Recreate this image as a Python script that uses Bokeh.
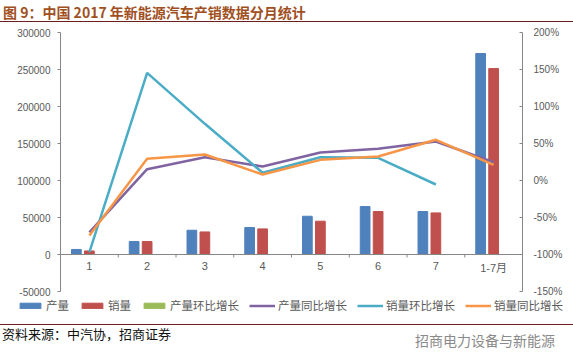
import numpy as np
from bokeh.plotting import figure
from bokeh.models import (Range1d, LinearAxis, FixedTicker, NumeralTickFormatter,
                          Legend, LegendItem, Div, ColumnDataSource, Span)
from bokeh.transform import dodge
from bokeh.embed import file_html
from bokeh.resources import INLINE

# ---------------- data ----------------
categories = ["1", "2", "3", "4", "5", "6", "7", "1-7月"]
production = [6800, 17600, 32800, 36500, 51700, 64800, 58100, 271600]      # 产量
sales = [4800, 17600, 30500, 34600, 45000, 58100, 56200, 251300]           # 销量
prod_mom = [-0.95, 1.59, 0.86, 0.11, 0.42, 0.25, -0.10, np.nan]            # 产量环比增长
prod_yoy = [-0.70, 0.153, 0.315, 0.189, 0.378, 0.428, 0.527, 0.247]        # 产量同比增长
sales_mom = [-0.969, 1.455, 0.766, 0.104, 0.315, 0.306, -0.054, np.nan]    # 销量环比增长
sales_yoy = [-0.743, 0.293, 0.351, 0.081, 0.279, 0.324, 0.550, 0.212]      # 销量同比增长
left_ticks = [-50000, 0, 50000, 100000, 150000, 200000, 250000, 300000]
right_ticks = [-1.5, -1.0, -0.5, 0.0, 0.5, 1.0, 1.5, 2.0]
series_names = ["产量", "销量", "产量环比增长", "产量同比增长", "销量环比增长", "销量同比增长"]

title_text = "图 9：中国 2017 年新能源汽车产销数据分月统计"
source_text = "资料来源：中汽协，招商证券"
mark_text = "招商电力设备与新能源"

# ---------------- styles ----------------
W = 573
axis_col = "#868686"
lab_col = "#595959"
num_font = "Liberation Sans"
c_prod, c_sales, c_pmom = "#4F81BD", "#C0504D", "#9BBB59"
c_pyoy, c_smom, c_syoy = "#8064A2", "#4BACC6", "#F79646"
lw = 2.5
bw = 0.168
off = 0.225

# ---------------- main figure ----------------
n = len(categories)
xs = [i + 0.5 for i in range(n)]
bounds = [float(i) for i in range(n + 1)]

src = ColumnDataSource(dict(x=xs, cat=categories, zero=[0] * n, prod=production, sales=sales,
                            pmom=prod_mom, pyoy=prod_yoy, smom=sales_mom, syoy=sales_yoy))

p = figure(width=W, height=279, output_backend="svg", toolbar_location=None,
           x_range=Range1d(0, n), y_range=Range1d(left_ticks[0], left_ticks[-1]),
           min_border_left=60, min_border_right=51, min_border_top=8, min_border_bottom=12,
           x_axis_type=None, y_axis_type=None)
p.extra_y_ranges = {"pct": Range1d(right_ticks[0], right_ticks[-1])}
p.outline_line_color = None
p.background_fill_color = "white"
p.border_fill_color = "white"

yl = LinearAxis(ticker=FixedTicker(ticks=left_ticks), formatter=NumeralTickFormatter(format="0"))
yl.axis_line_color = axis_col
yl.major_tick_line_color = axis_col
yl.major_tick_out = 3
yl.major_tick_in = 0
yl.minor_tick_line_color = None
yl.major_label_text_font = num_font
yl.major_label_text_font_size = "10px"
yl.major_label_text_color = lab_col
yl.major_label_standoff = 7
p.add_layout(yl, "left")

yr = LinearAxis(y_range_name="pct", ticker=FixedTicker(ticks=right_ticks),
                formatter=NumeralTickFormatter(format="0%"))
yr.axis_line_color = axis_col
yr.major_tick_line_color = axis_col
yr.major_tick_out = 0
yr.major_tick_in = 3
yr.minor_tick_line_color = None
yr.major_label_text_font = num_font
yr.major_label_text_font_size = "10px"
yr.major_label_text_color = lab_col
yr.major_label_standoff = 11
p.add_layout(yr, "right")

# category axis at the zero line
p.add_layout(Span(location=0, dimension="width", line_color=axis_col, line_width=1))
tick_len = 4000
p.segment(x0=bounds, y0=[0] * len(bounds), x1=bounds, y1=[-tick_len] * len(bounds),
          line_color=axis_col, line_width=1)
p.text(x="x", y="zero", text="cat", source=src, y_offset=7, text_align="center",
       text_baseline="top", text_font_size="11px", text_color=lab_col,
       text_font={"value": "Liberation Sans, Noto Sans CJK SC"})

p.vbar(x=dodge("x", -off), top="prod", bottom=0, width=bw, source=src, color=c_prod)
p.vbar(x=dodge("x", 0.0), top="sales", bottom=0, width=bw, source=src, color=c_sales)
p.vbar(x=dodge("x", off), top="pmom", bottom=0, width=bw, source=src, color=c_pmom)
p.line("x", "pyoy", source=src, y_range_name="pct", line_color=c_pyoy, line_width=lw)
p.line("x", "smom", source=src, y_range_name="pct", line_color=c_smom, line_width=lw)
p.line("x", "syoy", source=src, y_range_name="pct", line_color=c_syoy, line_width=lw)

# ---------------- legend strip (same series, plotted out of view) ----------------
lg = figure(width=W, height=18, output_backend="svg", toolbar_location=None,
            x_range=Range1d(-2, -1), y_range=Range1d(0, 1),
            min_border_left=0, min_border_right=0, min_border_top=0, min_border_bottom=0,
            x_axis_type=None, y_axis_type=None, margin=(-6, 0, 0, 0))
lg.outline_line_color = None
lg.xgrid.visible = False
lg.ygrid.visible = False
lg.background_fill_alpha = 0
lg.border_fill_alpha = 0
rl = [
    lg.vbar(x=dodge("x", -off), top="prod", width=bw, source=src, color=c_prod),
    lg.vbar(x=dodge("x", 0.0), top="sales", width=bw, source=src, color=c_sales),
    lg.vbar(x=dodge("x", off), top="pmom", width=bw, source=src, color=c_pmom),
    lg.line(x="x", y="pyoy", source=src, line_color=c_pyoy, line_width=lw),
    lg.line(x="x", y="smom", source=src, line_color=c_smom, line_width=lw),
    lg.line(x="x", y="syoy", source=src, line_color=c_syoy, line_width=lw),
]
legend = Legend(items=[LegendItem(label=nm, renderers=[r]) for nm, r in zip(series_names, rl)],
                orientation="horizontal", location=(17, 2))
legend.border_line_color = None
legend.background_fill_alpha = 0
legend.padding = 0
legend.margin = 0
legend.spacing = 10
legend.glyph_width = 26
legend.glyph_height = 7
legend.label_height = 14
legend.label_standoff = 3
legend.label_text_font = "Noto Sans CJK SC"
legend.label_text_font_size = "11.5px"
legend.label_text_color = lab_col
lg.add_layout(legend)

# ---------------- header / footer ----------------
header = Div(text=(
    '<div style="width:%dpx;height:24px;position:relative;">'
    '<div style="position:absolute;left:3px;top:4px;font-family:\'Noto Sans CJK SC\';font-weight:bold;'
    'font-size:14px;line-height:16px;color:#A0501E;white-space:nowrap;">%s</div>'
    '<div style="position:absolute;left:0;top:21px;width:%dpx;border-top:1.5px solid #6E1E1E;"></div>'
    '</div>') % (W, title_text, W), width=W, height=24, margin=(0, 0, 0, 0))

footer = Div(text=(
    '<div style="width:%dpx;height:49px;position:relative;">'
    '<div style="position:absolute;left:0;top:9px;width:%dpx;border-top:1.5px solid #6E1E1E;"></div>'
    '<div style="position:absolute;left:2px;top:11px;font-family:\'Noto Sans CJK SC\';font-size:13px;'
    'line-height:16px;color:#111;white-space:nowrap;">%s</div>'
    '<div style="position:absolute;left:415px;top:16px;font-family:\'Noto Sans CJK SC\';font-size:14px;'
    'line-height:18px;color:#8a8a8a;white-space:nowrap;">%s</div>'
    '</div>') % (W, W, source_text, mark_text), width=W, height=49, margin=(0, 0, 0, 0))

open("out.html", "w").write(file_html([header, p, lg, footer], INLINE))
